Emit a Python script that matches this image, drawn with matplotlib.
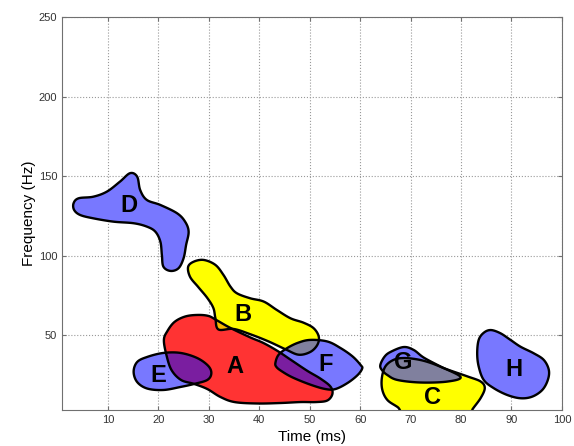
import numpy as np
import matplotlib
matplotlib.use("Agg")
import matplotlib.pyplot as plt
from matplotlib.patches import PathPatch
from matplotlib.path import Path

plt.rcParams["font.family"] = ["Liberation Sans", "DejaVu Sans"]

# Outlines of the regions, (time in ms, frequency in Hz)
a_time = [21.1, 21.8, 23.2, 25.3, 27.7, 29.9, 31.5, 34.3, 38.2, 40.8, 43.6, 46.2, 49.5,
          52.1, 54.1, 54.5, 53.5, 51.3, 48.2, 44.2, 39.6, 35.1, 32.3, 29.7, 27.1, 24.5, 22.6, 21.6]
a_freq = [46.9, 52.5, 58.2, 61.6, 62.6, 62.0, 59.4, 54.4, 48.5, 45.0, 40.0, 34.5, 27.5,
          22.6, 17.6, 12.9, 8.8, 7.8, 7.8, 7.2, 6.9, 7.8, 11.0, 16.0, 19.2, 21.7, 28.0, 37.4]

b_time = [27.0, 29.0, 31.3, 32.9, 34.3, 35.6, 38.2, 40.9, 43.5, 46.2, 48.8, 50.8, 51.8, 51.5,
          50.1, 47.8, 45.2, 41.8, 38.2, 34.9, 31.9, 31.3, 30.9, 29.7, 27.9, 26.3, 25.9]
b_freq = [96.1, 97.2, 94.1, 87.8, 80.4, 76.2, 73.1, 71.0, 65.7, 60.5, 57.7, 54.2, 48.9, 43.7,
          39.3, 37.6, 41.0, 46.0, 50.5, 53.8, 53.5, 60.7, 67.0, 73.3, 80.2, 86.5, 92.8]

c_time = [65.0, 66.6, 68.6, 71.4, 74.0, 77.3, 81.3, 83.9, 84.7, 83.9, 82.3, 81.5, 70.0,
          67.4, 65.4, 64.4, 64.3]
c_freq = [30.2, 34.3, 35.5, 34.6, 32.4, 28.3, 23.9, 20.7, 16.6, 10.4, 3.4, -1.0, -1.0,
          4.7, 9.1, 15.4, 22.9]

d_time = [3.2, 4.2, 7.1, 9.8, 12.4, 14.4, 15.8, 16.4, 17.7, 20.4, 23.7, 25.3, 26.0, 25.5,
          25.0, 24.0, 22.4, 21.0, 20.7, 20.4, 19.4, 17.7, 15.1, 11.1, 7.1, 4.5, 3.3]
d_freq = [132.9, 136.0, 137.0, 140.2, 146.5, 151.8, 149.6, 141.2, 135.0, 131.8, 126.6, 121.3,
          115.0, 106.6, 98.3, 92.0, 90.3, 93.0, 100.3, 108.7, 115.0, 118.2, 120.3, 121.3,
          123.4, 125.5, 128.7]

e_time = [15.1, 15.8, 17.8, 21.0, 24.4, 27.7, 29.9, 30.5, 29.7, 27.1, 24.4, 21.0, 17.8, 15.8]
e_freq = [26.9, 33.0, 36.2, 38.7, 38.7, 35.5, 30.5, 25.8, 21.7, 19.2, 17.3, 15.4, 16.3, 20.4]

f_time = [43.2, 43.8, 45.4, 47.6, 50.1, 53.5, 56.1, 58.5, 60.1, 60.4, 59.5, 57.5, 55.1,
          53.1, 50.1, 46.6, 44.4, 43.4]
f_freq = [32.4, 37.4, 41.5, 45.0, 46.9, 45.9, 41.8, 36.5, 31.1, 28.9, 24.8, 19.8, 16.0,
          16.0, 18.8, 23.3, 27.3, 29.9]

g_time = [64.0, 64.8, 66.0, 68.6, 70.6, 72.6, 75.9, 79.9, 77.3, 72.0, 67.4, 65.4, 64.3]
g_freq = [31.1, 36.2, 39.3, 42.4, 40.6, 35.8, 30.2, 23.6, 20.7, 20.1, 21.7, 24.8, 28.0]

h_time = [85.9, 87.8, 89.8, 91.8, 94.4, 96.4, 97.4, 97.2, 96.1, 94.1, 91.8, 89.2, 86.5,
          84.5, 83.5, 83.2, 83.5, 84.5]
h_freq = [53.1, 51.1, 46.9, 42.6, 38.5, 34.3, 28.0, 21.7, 15.4, 11.2, 10.2, 12.2, 16.5,
          21.7, 30.1, 38.5, 46.9, 51.4]

labels = ["A", "B", "C", "D", "E", "F", "G", "H"]
label_time = [35.2, 36.8, 74.3, 14.1, 20.0, 53.1, 68.6, 90.4]
label_freq = [29.9, 62.6, 10.4, 131.2, 24.2, 31.7, 33.0, 28.0]

BLUE = "#7878ff"
RED = "#ff3333"
YELLOW = "#ffff00"
PURPLE = "#7a1ea0"
GREY = "#80809e"
ORANGE = "#f5b800"


def smooth_closed(x, y, n=16):
    """Closed Catmull-Rom curve through the outline points."""
    p = np.column_stack([x, y])
    k = len(p)
    t = np.linspace(0, 1, n, endpoint=False)[:, None]
    out = []
    for i in range(k):
        p0, p1, p2, p3 = p[i - 1], p[i], p[(i + 1) % k], p[(i + 2) % k]
        seg = 0.5 * (2 * p1 + (-p0 + p2) * t + (2 * p0 - 5 * p1 + 4 * p2 - p3) * t ** 2
                     + (-p0 + 3 * p1 - 3 * p2 + p3) * t ** 3)
        out.append(seg)
    v = np.vstack(out + [p[:1]])
    return Path(v, closed=True)


fig = plt.figure(figsize=(5.74, 4.46), dpi=100)
ax = fig.add_axes([0.108, 0.0807, 0.871, 0.881])

paths = {
    "A": smooth_closed(a_time, a_freq),
    "B": smooth_closed(b_time, b_freq),
    "C": smooth_closed(c_time, c_freq),
    "D": smooth_closed(d_time, d_freq),
    "E": smooth_closed(e_time, e_freq),
    "F": smooth_closed(f_time, f_freq),
    "G": smooth_closed(g_time, g_freq),
    "H": smooth_closed(h_time, h_freq),
}
fills = {"A": RED, "B": YELLOW, "C": YELLOW, "D": BLUE, "E": BLUE, "F": BLUE, "G": BLUE, "H": BLUE}

patches = {}
for name in ["A", "E", "B", "F", "C", "G", "D", "H"]:
    patches[name] = ax.add_patch(PathPatch(paths[name], facecolor=fills[name],
                                           edgecolor="none", zorder=2))

# overlaps get their own colour
for top, under, col in [("E", "A", PURPLE), ("B", "A", ORANGE), ("F", "A", PURPLE),
                        ("F", "B", GREY), ("G", "C", GREY)]:
    p = ax.add_patch(PathPatch(paths[top], facecolor=col, edgecolor="none", zorder=3))
    p.set_clip_path(patches[under])

for name in paths:
    ax.add_patch(PathPatch(paths[name], facecolor="none", edgecolor="black",
                           linewidth=1.7, zorder=4))

for lab, tx, fy in zip(labels, label_time, label_freq):
    ax.text(tx, fy, lab, fontsize=17, fontweight="bold", ha="center", va="center", zorder=5)

ax.set_xlim(0.9, 100)
ax.set_ylim(2.8, 250)
ax.set_xticks(np.arange(10, 101, 10))
ax.set_yticks(np.arange(50, 251, 50))
ax.grid(True, linestyle=":", color="#999999", linewidth=0.8, zorder=0)
ax.set_axisbelow(True)
ax.tick_params(direction="in", top=True, right=True, length=3, color="#707070",
               labelsize=8, labelcolor="#333333")
for s in ax.spines.values():
    s.set_color("#707070")
ax.set_xlabel("Time (ms)", fontsize=11, labelpad=4)
ax.set_ylabel("Frequency (Hz)", fontsize=11, labelpad=2)

fig.savefig("out.png", dpi=100)
